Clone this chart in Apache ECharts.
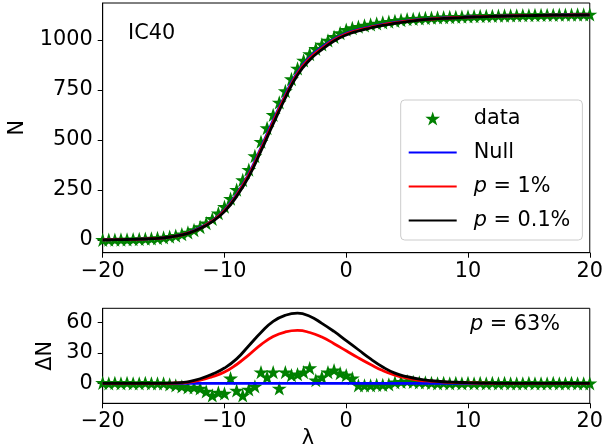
<!DOCTYPE html>
<html><head><meta charset="utf-8">
<script src="https://cdn.jsdelivr.net/npm/echarts@6/dist/echarts.min.js"></script>
<style>html,body{margin:0;padding:0;background:#fff}#c{width:606px;height:448px}</style>
</head><body><div id="c"></div><script>
// ---- data ----
const lamFine = [-20,-19.5,-19,-18.5,-18,-17.5,-17,-16.5,-16,-15.5,-15,-14.5,-14,-13.5,-13,-12.5,-12,-11.5,-11,-10.5,-10,-9.5,-9,-8.5,-8,-7.5,-7,-6.5,-6,-5.5,-5,-4.5,-4,-3.5,-3,-2.5,-2,-1.5,-1,-0.5,0,0.5,1,1.5,2,2.5,3,3.5,4,4.5,5,5.5,6,6.5,7,7.5,8,8.5,9,9.5,10,10.5,11,11.5,12,12.5,13,13.5,14,14.5,15,15.5,16,16.5,17,17.5,18,18.5,19,19.5,20];
const dataN = [1,1.5,2,2.5,3,4,5,6.5,8,10,13,17,22,29,38,50,65,84,106,134,167,207,252,300,352,420,492,560,626,688,745,805,858,898,930,956,978,998,1016,1035,1052,1060,1067,1073,1078,1083,1088,1092,1096,1100,1104,1106,1108,1110,1111.5,1113,1114,1115,1116,1117,1118,1119,1120,1120.5,1121,1122,1122.5,1123,1123.5,1124,1124.5,1125,1125.5,1126,1126,1126.5,1127,1127,1127.5,1128,1128];
const dataDN = [0.5,0,0.5,0,0.5,0,0,0.5,0,0,0,-1,-2,-3,-4,-4,-5,-8,-12,-9,-10,5,-7,-12,-6,-3,11,6,11,-5,11,8,9,11,15,3,6,11,13,10,8,5,-2,-2,-2,-1.5,-1.5,-1,1,1.5,2,1.5,1,1,0.5,0,0.5,0,0.5,0,0.5,0,0.5,0,0.5,0,0.5,0,0,0,0.5,0,0,0,0.5,0,0,0.5,0,0,0];
const lamCoarse = [-20,-19,-18,-17,-16,-15,-14,-13,-12,-11,-10,-9,-8,-7,-6,-5,-4,-3,-2,-1,0,1,2,3,4,5,6,7,8,9,10,11,12,13,14,15,16,17,18,19,20];
const nullN = [1,1.5,2.5,4,6.5,11,20,35,61,97,149,229,331,461,598,726,839,913,963,1004,1033,1052,1066,1078,1088,1096,1102,1106,1110,1112,1115,1117,1118.5,1120,1121.5,1122.5,1123.5,1124.5,1125,1125.5,1126];
const p1N = [1,1.5,2.5,4,6.5,11,19.5,34,59,95,146,224,325,454,590,719,833,907,958,1000,1029.5,1049,1063.5,1076,1085.5,1094,1100.5,1105,1109,1112,1114.5,1116.5,1118.3,1119.8,1121.3,1122.3,1123.3,1124.3,1124.8,1125.3,1125.8];
const p01N = [1,1.5,2.5,4,6.5,11,19,33,57,92,142,218,317,445,580,710,825,900,952,995,1025,1045,1060,1073,1083,1092,1099,1104,1108,1111,1114,1116,1118,1119.5,1121,1122,1123,1124,1124.5,1125,1125.5];
const nullDN = [0,0,0,0,0,0,0,0,0,0,0,0,0,0,0,0,0,0,0,0,0,0,0,0,0,0,0,0,0,0,0,0,0,0,0,0,0,0,0,0,0];
const p1DN = [0,0,0,0,0,0,0.3,1,3,6.5,11,18.5,28,38,46,50.5,52,50,45.5,39,32,25,18.5,12.5,8,5,3,2,1.2,0.7,0.4,0.2,0,0,0,0,0,0,0,0,0];
const p01DN = [0,0,0,0,0,0,0.4,1.5,4.5,9,15,24,37,50,61,67,69,66,59,51,42,33,24,16,10,6.5,4,2.5,1.5,1,0.6,0.3,0.1,0,0,0,0,0,0,0,0];
const xTicks = [-20,-10,0,10,20];
const yTicksTop = [0,250,500,750,1000];
const yTicksBot = [0,30,60];

// ---- rendering ----
const FONT = 'DejaVu Sans';
const FS = 20.8;
function starPath(){
  let d = '';
  for (let i = 0; i < 10; i++) {
    const r = i % 2 ? 0.382 : 1;
    const a = -Math.PI / 2 + i * Math.PI / 5;
    d += (i ? 'L' : 'M') + (r * Math.cos(a)).toFixed(4) + ' ' + (r * Math.sin(a)).toFixed(4);
  }
  return 'path://' + d + 'Z';
}
const STAR = starPath();
const pair = (xs, ys) => xs.map((x, i) => [x, ys[i]]);
const fmt = v => String(v).replace('-', '\u2212');

const chart = echarts.init(document.getElementById('c'), null, {renderer: 'canvas'});
const gridL = 102.7, gridW = 488.3;
function xAxis(gi){
  return {type:'value', gridIndex:gi, min:-20, max:20, interval:10,
    axisLine:{show:true, onZero:false, lineStyle:{color:'#000', width:1}},
    axisTick:{show:true, length:5, lineStyle:{color:'#000', width:1}},
    axisLabel:{color:'#000', fontFamily:FONT, fontSize:FS, margin:8, formatter:fmt},
    splitLine:{show:false}};
}
function yAxis(gi, min, max, ticks){
  return {type:'value', gridIndex:gi, min:min, max:max,
    axisLine:{show:true, onZero:false, lineStyle:{color:'#000', width:1}},
    axisTick:{show:true, length:5, lineStyle:{color:'#000', width:1}, customValues:ticks},
    axisLabel:{color:'#000', fontFamily:FONT, fontSize:FS, margin:10, formatter:fmt, customValues:ticks},
    splitLine:{show:false}};
}
function lineS(name, xi, xs, ys, color, z){
  return {name:name, type:'line', xAxisIndex:xi, yAxisIndex:xi, data:pair(xs, ys),
    showSymbol:false, symbol:'none', smooth:0.5,
    lineStyle:{color:color, width:2.8}, itemStyle:{color:color}, z:z, silent:true, animation:false};
}
function starS(name, xi, xs, ys){
  return {name:name, type:'scatter', xAxisIndex:xi, yAxisIndex:xi, data:pair(xs, ys),
    symbol:STAR, symbolSize:15, symbolKeepAspect:true,
    itemStyle:{color:'#008000', opacity:1}, z:2, silent:true, animation:false};
}
const legendNames = {data:'data', Null:'Null', p1:'{i|p} = 1%', p01:'{i|p} = 0.1%'};
const hideSym = {color:'rgba(0,0,0,0)', opacity:0, borderWidth:0};
chart.setOption({
  animation:false,
  backgroundColor:'#fff',
  grid:[
    {left:gridL, top:3, width:gridW, height:249.7, show:true, borderColor:'#000', borderWidth:1, backgroundColor:'transparent'},
    {left:gridL, top:308.3, width:gridW, height:95, show:true, borderColor:'#000', borderWidth:1, backgroundColor:'transparent'}
  ],
  xAxis:[xAxis(0), xAxis(1)],
  yAxis:[yAxis(0, -63.5, 1185, yTicksTop), yAxis(1, -19.7, 73.8, yTicksBot)],
  legend:{
    data:[
      {name:'data'},
      {name:'Null', itemStyle:hideSym},
      {name:'p1', itemStyle:hideSym},
      {name:'p01', itemStyle:hideSym}
    ],
    orient:'vertical', left:400.7, top:100,
    itemWidth:48, itemHeight:14, itemGap:13, padding:[8,12,9,7],
    backgroundColor:'rgba(255,255,255,0.8)', borderColor:'#cccccc', borderWidth:1, borderRadius:4,
    selectedMode:false,
    formatter: n => legendNames[n],
    textStyle:{color:'#000', fontFamily:FONT, fontSize:FS, padding:[0,0,0,12],
      rich:{i:{fontStyle:'italic', fontFamily:FONT, fontSize:FS, color:'#000'}}}
  },
  series:[
    starS('data', 0, lamFine, dataN),
    lineS('Null', 0, lamCoarse, nullN, '#0000ff', 3),
    lineS('p1', 0, lamCoarse, p1N, '#ff0000', 4),
    lineS('p01', 0, lamCoarse, p01N, '#000000', 5),
    starS('dataD', 1, lamFine, dataDN),
    lineS('NullD', 1, lamCoarse, nullDN, '#0000ff', 3),
    lineS('p1D', 1, lamCoarse, p1DN, '#ff0000', 4),
    lineS('p01D', 1, lamCoarse, p01DN, '#000000', 5)
  ],
  graphic:[
    {type:'text', left:128, top:23, style:{text:'IC40', font:FS+'px "'+FONT+'"', fill:'#000'}},
    {type:'text', x:470, y:325, style:{text:'{i|p} = 63%', font:FS+'px "'+FONT+'"', fill:'#000', verticalAlign:'middle',
      rich:{i:{fontStyle:'italic', fontSize:FS, fontFamily:FONT}}}},
    {type:'text', x:17.5, y:127.8, rotation:Math.PI/2, style:{text:'N', font:FS+'px "'+FONT+'"', fill:'#000', align:'center', verticalAlign:'middle'}},
    {type:'text', x:46, y:355.8, rotation:Math.PI/2, style:{text:'\u0394N', font:FS+'px "'+FONT+'"', fill:'#000', align:'center', verticalAlign:'middle'}},
    {type:'text', x:308, y:439, style:{text:'\u03bb', font:FS+'px "'+FONT+'"', fill:'#000', align:'center', verticalAlign:'middle'}}
  ]
});
</script></body></html>
